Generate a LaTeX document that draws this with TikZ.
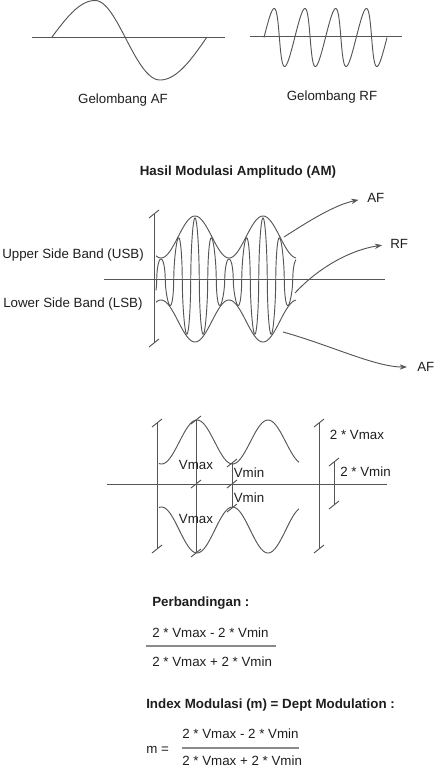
\documentclass[tikz,border=0pt]{standalone}
\usepackage{fontspec}
\setmainfont{Liberation Sans}
\usetikzlibrary{arrows.meta}
\definecolor{lc}{HTML}{555555}
\definecolor{tc}{HTML}{1E1E1E}
\definecolor{fc}{HTML}{8A8A8A}
\begin{document}
\begin{tikzpicture}[x=0.75pt,y=-0.75pt,
  ln/.style={draw=lc, line width=0.7pt},
  fr/.style={draw=fc, line width=1.1pt},
  lbl/.style={inner sep=0pt, text=tc, font=\fontsize{10}{12}\selectfont},
  lbll/.style={lbl, anchor=west},
  bld/.style={lbll, font=\fontsize{10}{12}\selectfont\bfseries},
  arr/.style={ln, -{Stealth[length=5.5pt,width=4pt]}},
  tk/.pic={\draw[ln] (-5,4) -- (5,-4);}
]
\useasboundingbox (0,0) rectangle (433,768);

% ---------- AF wave ----------
\draw[ln] (32,37) -- (225,37);
\draw[ln] plot[domain=0:90,samples=25] ({52+43*\x/90},{37-36.5*sin(\x)})
  -- plot[domain=90:180,samples=25] ({95+30*(\x-90)/90},{37-36.5*sin(\x)})
  -- plot[domain=180:270,samples=25] ({125+35*(\x-180)/90},{37-43*sin(\x)})
  -- plot[domain=270:360,samples=25] ({160+47*(\x-270)/90},{37-43*sin(\x)});
\node[lbl] (gaf) at (123,100) {Gelombang AF};

% ---------- RF wave ----------
\draw[ln] (250,36.5) -- (402,36.5);
\draw[ln] plot[domain=0:1440,samples=320] ({264+\x/360*30.75+2.5*sin(\x)},{37.5-29*sin(\x)});
\node[lbl] (grf) at (332,97) {Gelombang RF};

% ---------- AM ----------
\node[lbl, font=\fontsize{10}{12}\selectfont\bfseries] (title) at (238,172) {Hasil Modulasi Amplitudo (AM)};
\draw[ln] (104,279) -- (385,279);
\coordinate (b1t) at (154,214);
\coordinate (b1b) at (154,343);
\draw[ln] (b1t) -- (b1b);
\pic at (b1t) {tk};
\pic at (b1b) {tk};
\draw[ln] plot[domain=156:296,samples=120] (\x,{279-(42+21*cos((\x-195)/68*360))});
\draw[ln] plot[domain=156:296,samples=120] (\x,{279+(42+21*cos((\x-195)/68*360))});
\draw[ln] plot[domain=156:296,samples=701,smooth] (\x,{279-(40.5+20.5*cos((\x-195)/68*360))*cos((\x-195)/17*360)/sqrt(abs(cos((\x-195)/17*360))+0.02)*1.01});

\node[lbll] (usb) at (2,255) {Upper Side Band (USB)};
\node[lbll] (lsb) at (3,304) {Lower Side Band (LSB)};

\node[lbll] (af1) at (367,198) {AF};
\node[lbll] (rf) at (390,244) {RF};
\node[lbll] (af2) at (417,367) {AF};
\coordinate (a1s) at (284,237);
\coordinate (a2s) at (295,293);
\coordinate (a3s) at (283,332);
\draw[arr, shorten >=6.5pt] (a1s) .. controls (312,219) and (335,205) .. (af1.west);
\draw[arr, shorten >=6pt] (a2s) .. controls (318,268) and (350,250) .. (rf.west);
\draw[arr, shorten >=7.5pt] (a3s) .. controls (330,345) and (375,367) .. (af2.west);

% ---------- Vmax / Vmin ----------
\draw[ln] (107,484) -- (387,484);
\coordinate (lt) at (157,423);  \coordinate (lb) at (157,549);
\coordinate (mt) at (196,420);  \coordinate (mb) at (196,553); \coordinate (mm) at (196,484);
\coordinate (nt) at (232,463);  \coordinate (nb) at (232,508); \coordinate (nm) at (232,484);
\coordinate (rt) at (319,423);  \coordinate (rb) at (319,549);
\coordinate (st) at (334,462);  \coordinate (sb) at (334,505);
\draw[ln] (lt) -- (lb);
\draw[ln] (mt) -- (mb);
\draw[ln] (nt) -- (nb);
\draw[ln] (rt) -- (rb);
\draw[ln] (st) -- (sb);
\foreach \p in {lt,lb,mt,mb,mm,nt,nb,nm,rt,rb,st,sb} { \pic at (\p) {tk}; }
\draw[ln] plot[domain=159:299,samples=120] (\x,{484-(42+22*cos((\x-197)/71*360))});
\draw[ln] plot[domain=159:299,samples=120] (\x,{484+(46+23*cos((\x-197)/71*360))});

\node[lbl] (vmax1) at (196,465) {Vmax};
\node[lbl] (vmax2) at (196,519) {Vmax};
\node[lbl] (vmin1) at (249,473) {Vmin};
\node[lbl] (vmin2) at (249,498) {Vmin};
\node[lbl] (tvmax) at (357,435) {2 * Vmax};
\node[lbl] (tvmin) at (365.5,472) {2 * Vmin};

% ---------- formulas ----------
\node[bld] (perb) at (152,603) {Perbandingan :};
\node[lbll] (num1) at (152,633) {2 * Vmax - 2 * Vmin};
\draw[fr] (146,646) -- (276,646);
\node[lbll] (den1) at (152,662) {2 * Vmax + 2 * Vmin};

\node[bld] (idx) at (146,705) {Index Modulasi (m) = Dept Modulation :};
\node[lbll] (meq) at (146,750) {m =};
\node[lbll] (num2) at (182,734) {2 * Vmax - 2 * Vmin};
\draw[fr] (182,748) -- (299,748);
\node[lbll] (den2) at (182,761) {2 * Vmax + 2 * Vmin};
\end{tikzpicture}
\end{document}
